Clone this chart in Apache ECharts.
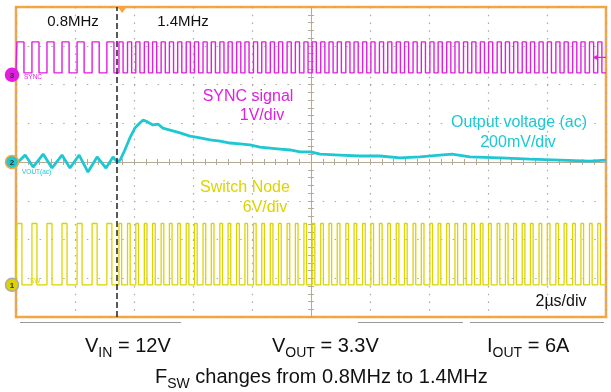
<!DOCTYPE html>
<html><head><meta charset="utf-8">
<script src="https://cdn.jsdelivr.net/npm/echarts@6/dist/echarts.min.js"></script>
<style>html,body{margin:0;padding:0;background:#fff}#c{width:611px;height:392px}</style>
</head><body><div id="c"></div><script>
// ---- data (time in µs relative to screen centre, 2 µs/div) ----
const pulseStartsBefore = [-9.97, -9.46, -8.95, -8.44, -7.93, -7.42, -6.92];
const pulseStartsAfter = [-6.51, -6.22, -5.94, -5.65, -5.37, -5.08, -4.80, -4.52, -4.23, -3.95, -3.66, -3.38, -3.09, -2.81, -2.52, -2.24, -1.95, -1.67, -1.38, -1.10, -0.81, -0.53, -0.24, 0.04, 0.33, 0.61, 0.89, 1.18, 1.46, 1.75, 2.03, 2.32, 2.60, 2.89, 3.17, 3.46, 3.74, 4.03, 4.31, 4.60, 4.88, 5.17, 5.45, 5.74, 6.02, 6.31, 6.59, 6.87, 7.16, 7.44, 7.73, 8.01, 8.30, 8.58, 8.87, 9.15, 9.44, 9.72];
const cursorTime = -6.58;
const triggerTime = -6.4;
const syncLevelsV = [0.05, 0.85];      // low, high (1 V/div)
const syncVoltsPerDiv = 1;
const syncOffsetDiv = 2.25;
const syncHighUs = [0.24, 0.14];       // high time before / after change
const swLevelsV = [0, 9.5];            // low, high (6 V/div)
const swVoltsPerDiv = 6;
const swOffsetDiv = -3.17;
const swHighUs = [0.17, 0.09];
const voutOffsetDiv = 0;
const voutMvPerDiv = 200;
const voutTime = [-10, -9.86, -9.69, -9.42, -9.08, -8.78, -8.44, -8.17, -7.86, -7.56, -7.25, -6.95, -6.71, -6.58, -6.47, -6.31, -6.14, -5.97, -5.80, -5.69, -5.53, -5.36, -5.19, -5.02, -4.78, -4.44, -4.10, -3.76, -3.42, -3.08, -2.75, -2.41, -2.07, -1.73, -1.39, -1.05, -0.71, -0.37, 0, 0.31, 0.98, 1.66, 2.34, 3.02, 3.69, 4.37, 4.78, 5.39, 6.41, 7.42, 8.44, 9.46, 10];
const voutMV = [-5, 10, 36, -26, 41, -31, 36, -31, 36, -52, 26, -31, 26, 0, 10, 62, 124, 175, 201, 217, 206, 191, 196, 175, 165, 150, 134, 124, 114, 108, 98, 93, 88, 77, 72, 67, 62, 52, 52, 41, 36, 31, 31, 21, 26, 36, 41, 26, 21, 15, 10, 5, 10];

// ---- build series from data ----
const allStarts = pulseStartsBefore.concat(pulseStartsAfter);
function pulseTrain(starts, highDur, lowDiv, highDiv) {
  const pts = [[-10, lowDiv]];
  starts.forEach(t => {
    const w = t < cursorTime ? highDur[0] : highDur[1];
    pts.push([t, lowDiv], [t, highDiv], [t + w, highDiv], [t + w, lowDiv]);
  });
  pts.push([10, lowDiv]);
  return pts;
}
const syncData = pulseTrain(allStarts, syncHighUs,
  syncOffsetDiv + syncLevelsV[0] / syncVoltsPerDiv, syncOffsetDiv + syncLevelsV[1] / syncVoltsPerDiv);
const swData = pulseTrain(allStarts, swHighUs,
  swOffsetDiv + swLevelsV[0] / swVoltsPerDiv, swOffsetDiv + swLevelsV[1] / swVoltsPerDiv);
const voutData = voutTime.map((t, i) => [t, voutOffsetDiv + voutMV[i] / voutMvPerDiv]);

const MAG = '#e01ee0', CYA = '#1ec8d2', YEL = '#dcd400', ORA = '#f5a640';
const FONT = 'Liberation Sans';
const G = {left: 16, top: 7, width: 590, height: 310};
const tickGray = '#b4b4b4', centerCol = '#b4aa96';

function frameX(pos) {
  return {gridIndex: 0, type: 'value', position: pos, min: -10, max: 10, interval: 2,
    axisLine: {show: false}, axisLabel: {show: false},
    axisTick: {show: true, inside: true, length: 3, lineStyle: {color: tickGray}},
    minorTick: {show: true, splitNumber: 5, length: 3, lineStyle: {color: tickGray}},
    splitLine: {show: pos === 'bottom', lineStyle: {color: '#a8a8a8', type: [1.5, 6.25], width: 1.2}}};
}
function frameY(pos) {
  return {gridIndex: 0, type: 'value', position: pos, min: -4, max: 4, interval: 1,
    axisLine: {show: false}, axisLabel: {show: false},
    axisTick: {show: true, inside: true, length: 3, lineStyle: {color: tickGray}},
    minorTick: {show: true, splitNumber: 5, length: 3, lineStyle: {color: tickGray}},
    splitLine: {show: pos === 'left', lineStyle: {color: '#a8a8a8', type: [1.5, 10.3], width: 1.2}}};
}
function centerX(pos) {
  return {gridIndex: 1, type: 'value', position: pos, min: -10, max: 10, interval: 2,
    axisLine: {show: true, onZero: true, lineStyle: {color: centerCol, width: 1}}, axisLabel: {show: false},
    axisTick: {show: true, length: 3, lineStyle: {color: centerCol}},
    minorTick: {show: true, splitNumber: 5, length: 3, lineStyle: {color: centerCol}},
    splitLine: {show: false}};
}
function centerY(pos) {
  return {gridIndex: 1, type: 'value', position: pos, min: -4, max: 4, interval: 1,
    axisLine: {show: true, onZero: true, lineStyle: {color: centerCol, width: 1}}, axisLabel: {show: false},
    axisTick: {show: true, length: 3, lineStyle: {color: centerCol}},
    minorTick: {show: true, splitNumber: 5, length: 3, lineStyle: {color: centerCol}},
    splitLine: {show: false}};
}

const chart = echarts.init(document.getElementById('c'), null, {renderer: 'canvas'});

function txt(x, y, s, color, size, align) {
  return {type: 'text', x: x, y: y, z: 100, silent: true,
    style: {text: s, fill: color, font: size + 'px ' + FONT, align: align || 'center', verticalAlign: 'middle'}};
}
const richBase = {
  m: {fontSize: 20, fontFamily: FONT, fill: '#111', lineHeight: 26},
  s: {fontSize: 14, fontFamily: FONT, fill: '#111', padding: [14, 0, 0, 0], lineHeight: 26}
};
function rtxt(x, y, s, align) {
  return {type: 'text', x: x, y: y, z: 100, silent: true,
    style: {text: s, rich: richBase, align: align || 'left', verticalAlign: 'middle', fill: '#111'}};
}

chart.setOption({
  animation: false,
  backgroundColor: '#ffffff',
  textStyle: {fontFamily: FONT},
  grid: [
    Object.assign({show: true, borderColor: ORA, borderWidth: 2.5, backgroundColor: 'transparent', z: 0}, G),
    Object.assign({show: false}, G)
  ],
  xAxis: [frameX('bottom'), frameX('top'), centerX('bottom'), centerX('top')],
  yAxis: [frameY('left'), frameY('right'), centerY('left'), centerY('right')],
  series: [
    {type: 'line', name: 'SYNC', xAxisIndex: 0, yAxisIndex: 0, data: syncData, symbol: 'none',
      lineStyle: {color: MAG, width: 1.4}, clip: true, z: 3,
      markLine: {silent: true, symbol: 'none', label: {show: false}, animation: false,
        lineStyle: {color: '#222', type: [6, 3], width: 1.5}, data: [{xAxis: cursorTime}]}},
    {type: 'line', name: 'SW', xAxisIndex: 0, yAxisIndex: 0, data: swData, symbol: 'none',
      lineStyle: {color: YEL, width: 1.3}, clip: true, z: 3},
    {type: 'line', name: 'VOUT', xAxisIndex: 0, yAxisIndex: 0, data: voutData, symbol: 'none',
      lineStyle: {color: CYA, width: 2.8}, clip: true, z: 4}
  ]
});

// decorations positioned through the axes
const px = (t, d) => chart.convertToPixel({gridIndex: 0}, [t, d]);
const pSync = px(-10, syncOffsetDiv), pVout = px(-10, voutOffsetDiv), pSw = px(-10, swOffsetDiv);
const pTrig = px(triggerTime, 4);
const pArrow = px(10, syncOffsetDiv + 0.45);
function marker(p, num, fill, stroke) {
  return [
    {type: 'circle', shape: {cx: p[0] - 4, cy: p[1], r: 6.5}, style: {fill: fill, stroke: stroke, lineWidth: 1.5}, z: 90, silent: true},
    {type: 'text', x: p[0] - 4, y: p[1] + 0.5, z: 91, silent: true, style: {text: num, fill: '#333', font: 'bold 8px ' + FONT, align: 'center', verticalAlign: 'middle'}}
  ];
}
const graphics = [].concat(
  marker(pSync, '3', MAG, MAG),
  marker(pVout, '2', CYA, ORA),
  marker(pSw, '1', YEL, '#aaa'),
  [
    txt(pSync[0] + 8, pSync[1] + 2, 'SYNC', MAG, 6.5, 'left'),
    txt(pVout[0] + 6, pVout[1] + 10, 'VOUT(ac)', CYA, 6.5, 'left'),
    txt(pSw[0] + 14, pSw[1] - 4, 'SW', YEL, 6.5, 'left'),
    {type: 'polygon', z: 95, silent: true, shape: {points: [[pTrig[0] - 4.5, pTrig[1]], [pTrig[0] + 4.5, pTrig[1]], [pTrig[0], pTrig[1] + 6]]}, style: {fill: ORA}},
    {type: 'polyline', z: 95, silent: true, shape: {points: [[pArrow[0] - 12, pArrow[1]], [pArrow[0], pArrow[1]]]}, style: {stroke: MAG, lineWidth: 1.2}},
    {type: 'polygon', z: 95, silent: true, shape: {points: [[pArrow[0] - 13, pArrow[1]], [pArrow[0] - 8, pArrow[1] - 3], [pArrow[0] - 8, pArrow[1] + 3]]}, style: {fill: MAG}},
    txt(73, 22, '0.8MHz', '#111', 15),
    txt(183, 22, '1.4MHz', '#111', 15),
    txt(248, 97, 'SYNC signal', MAG, 16),
    txt(262, 116, '1V/div', MAG, 16),
    txt(519, 123, 'Output voltage (ac)', CYA, 16),
    txt(518, 143, '200mV/div', CYA, 16),
    txt(245, 188, 'Switch Node', YEL, 16),
    txt(265, 208, '6V/div', YEL, 16),
    txt(561, 302, '2µs/div', '#111', 16),
    {type: 'line', z: 95, silent: true, shape: {x1: 20, y1: 322.5, x2: 181, y2: 322.5}, style: {stroke: '#999', lineWidth: 1}},
    {type: 'line', z: 95, silent: true, shape: {x1: 358, y1: 322.5, x2: 463, y2: 322.5}, style: {stroke: '#999', lineWidth: 1}},
    {type: 'line', z: 95, silent: true, shape: {x1: 470, y1: 322.5, x2: 604, y2: 322.5}, style: {stroke: '#999', lineWidth: 1}},
    rtxt(85, 346, '{m|V}{s|IN}{m| = 12V}'),
    rtxt(272, 346, '{m|V}{s|OUT}{m| = 3.3V}'),
    rtxt(487, 346, '{m|I}{s|OUT}{m| = 6A}'),
    rtxt(155, 377, '{m|F}{s|SW}{m| changes from 0.8MHz to 1.4MHz}')
  ]
);
chart.setOption({graphic: graphics});
</script></body></html>
